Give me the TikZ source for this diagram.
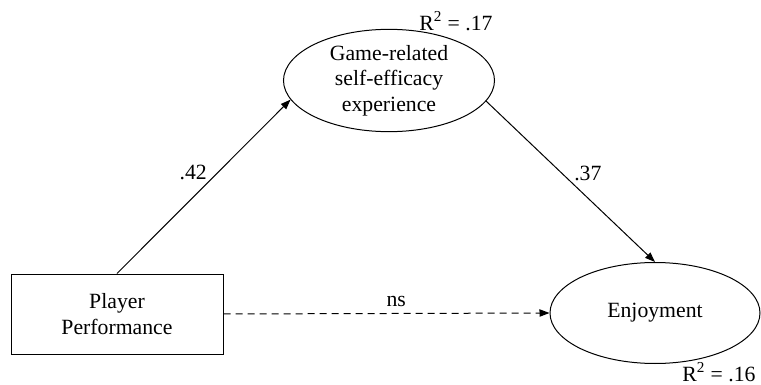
\documentclass[tikz,border=0pt]{standalone}
\usepackage{fontspec}
\setmainfont{Liberation Serif}
\usetikzlibrary{arrows.meta,shapes.geometric}

\tikzset{
  varbox/.style={draw, line width=0.75pt, minimum width=212*0.75pt, minimum height=80*0.75pt, align=center, inner sep=0.75pt},
  latentvar/.style={draw, ellipse, line width=0.75pt, align=center, inner sep=0.75pt},
  pathline/.style={line width=0.75pt, -{Triangle[length=7.5pt,width=5.5pt]}},
  coef/.style={inner sep=0.75pt}
}

\begin{document}
\begin{tikzpicture}[x=0.75pt,y=0.75pt,yscale=-1,xscale=1,
  font=\fontsize{16.3}{19}\selectfont]
\useasboundingbox (0,0) rectangle (761,385);

%Shape: Rectangle [id:perf]
\node [varbox] (perf) at (117,314) {Player\\Performance};
%Shape: Ellipse [id:efficacy]
\node [latentvar, minimum width=211*0.75pt, minimum height=95*0.75pt] (efficacy) at (389,80.5) {\fontsize{16.3}{18}\selectfont Game-related\\self-efficacy\\experience};
%Shape: Ellipse [id:enjoy]
\node [latentvar, minimum width=210*0.75pt, minimum height=101*0.75pt] (enjoy) at (655,313) {Enjoyment};

%Straight Lines [id:perf-efficacy]
\draw [pathline] (perf.north) -- (efficacy.191) node [coef, pos=0.58, left=7pt] {.42};
%Straight Lines [id:efficacy-enjoy]
\draw [pathline] (efficacy.-12) -- (enjoy.north) node [coef, pos=0.45, right=8pt] {.37};
%Straight Lines [id:perf-enjoy]
\draw [pathline, dash pattern=on 5.25pt off 3.75pt] (perf.east) -- (enjoy.west) node [coef, pos=0.53, above=4pt] {ns};

% Text Node
\node [coef] (r2eff) at (456,21) {R\textsuperscript{2} = .17};
% Text Node
\node [coef] (r2enj) at (719,372) {R\textsuperscript{2} = .16};

\end{tikzpicture}
\end{document}
